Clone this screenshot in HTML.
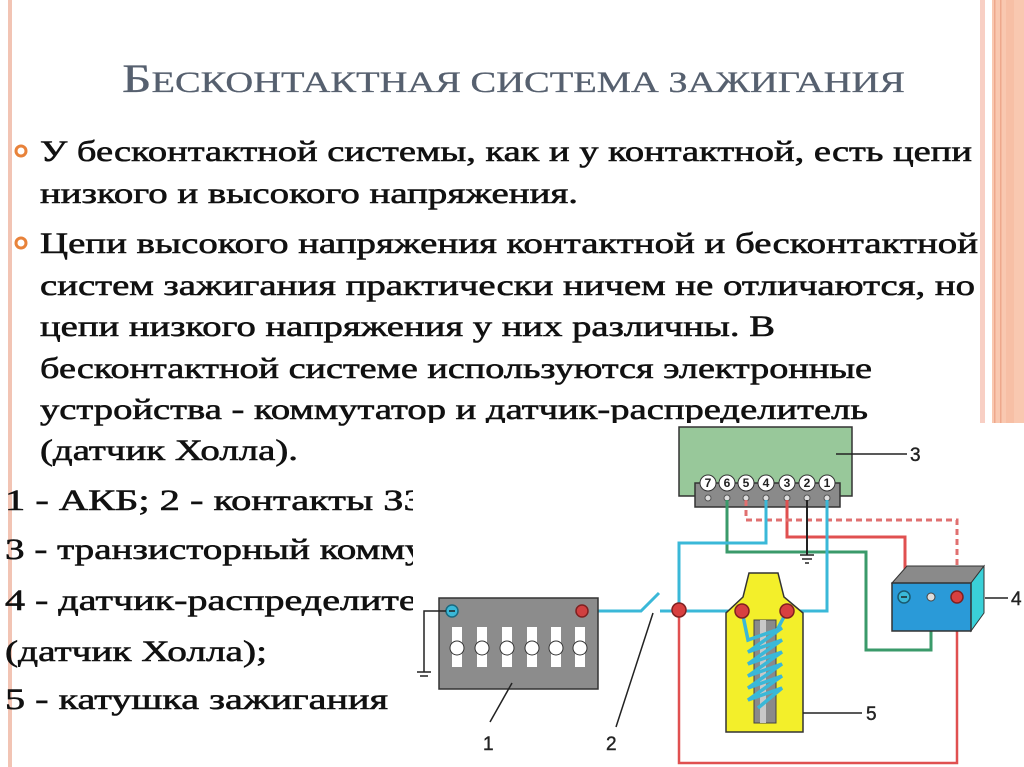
<!DOCTYPE html>
<html><head><meta charset="utf-8"><style>html,body{margin:0;padding:0;background:#fff}svg{display:block}</style></head>
<body>
<svg width="1024" height="767" viewBox="0 0 1024 767" xmlns="http://www.w3.org/2000/svg" font-family="Liberation Serif, serif">
<rect width="1024" height="767" fill="#fff"/>
<rect x="8" y="0" width="4" height="767" fill="#f2c4b4"/>
<rect x="980" y="0" width="5" height="423" fill="#f8cfc4"/>
<rect x="992" y="0" width="32" height="423" fill="#f9c8b0"/>
<rect x="994" y="0" width="1.5" height="423" fill="#eea88c"/>
<rect x="1000" y="0" width="1.5" height="423" fill="#eea88c"/>
<rect x="1006" y="0" width="8" height="423" fill="#f7bfa5"/>
<text x="122" y="92" fill="#56606f" stroke="#56606f" stroke-width="0.3" font-size="30" textLength="783" lengthAdjust="spacingAndGlyphs"><tspan font-size="40">Б</tspan>ЕСКОНТАКТНАЯ СИСТЕМА ЗАЖИГАНИЯ</text>
<circle cx="21" cy="151" r="5" fill="none" stroke="#e8823a" stroke-width="3"/>
<circle cx="21" cy="243" r="5" fill="none" stroke="#e8823a" stroke-width="3"/>
<g fill="#111" stroke="#111" stroke-width="0.6" font-size="30">
<text x="40" y="161" textLength="932" lengthAdjust="spacingAndGlyphs">У бесконтактной системы, как и у контактной, есть цепи</text>
<text x="40" y="203" textLength="538" lengthAdjust="spacingAndGlyphs">низкого и высокого напряжения.</text>
<text x="40" y="253" textLength="938" lengthAdjust="spacingAndGlyphs">Цепи высокого напряжения контактной и бесконтактной</text>
<text x="40" y="295" textLength="935" lengthAdjust="spacingAndGlyphs">систем зажигания практически ничем не отличаются, но</text>
<text x="40" y="336" textLength="735" lengthAdjust="spacingAndGlyphs">цепи низкого напряжения у них различны. В</text>
<text x="40" y="378" textLength="832" lengthAdjust="spacingAndGlyphs">бесконтактной системе используются электронные</text>
<text x="40" y="419" textLength="828" lengthAdjust="spacingAndGlyphs">устройства - коммутатор и датчик-распределитель</text>
<text x="40" y="460" textLength="258" lengthAdjust="spacingAndGlyphs">(датчик Холла).</text>
<text x="5" y="510" textLength="430" lengthAdjust="spacingAndGlyphs">1 - АКБ; 2 - контакты ЗЗ;</text>
<text x="5" y="559" textLength="520" lengthAdjust="spacingAndGlyphs">3 - транзисторный коммутатор;</text>
<text x="5" y="610" textLength="450" lengthAdjust="spacingAndGlyphs">4 - датчик-распределитель</text>
<text x="5" y="661" textLength="262" lengthAdjust="spacingAndGlyphs">(датчик Холла);</text>
<text x="5" y="709" textLength="383" lengthAdjust="spacingAndGlyphs">5 - катушка зажигания</text>
</g>
<rect x="413" y="423" width="611" height="344" fill="#fff"/>
<rect x="679" y="427" width="173" height="69" fill="#98c89a" stroke="#333" stroke-width="1.5"/>
<rect x="695" y="483" width="145" height="24" fill="#8a8a8a" stroke="#333" stroke-width="1.5"/>
<g font-size="12" font-family="Liberation Sans, sans-serif" font-weight="bold" text-anchor="middle" fill="#222">
<g fill="#fff" stroke="#333" stroke-width="1"><circle cx="708" cy="483" r="8"/><circle cx="727" cy="483" r="8"/><circle cx="746" cy="483" r="8"/><circle cx="766" cy="483" r="8"/><circle cx="787" cy="483" r="8"/><circle cx="807" cy="483" r="8"/><circle cx="827" cy="483" r="8"/></g>
<text x="708" y="487">7</text><text x="727" y="487">6</text><text x="746" y="487">5</text><text x="766" y="487">4</text><text x="787" y="487">3</text><text x="807" y="487">2</text><text x="827" y="487">1</text>
</g>
<g fill="#ddd" stroke="#555" stroke-width="1"><circle cx="708" cy="498" r="3"/><circle cx="727" cy="498" r="3"/><circle cx="746" cy="498" r="3"/><circle cx="766" cy="498" r="3"/><circle cx="787" cy="498" r="3"/><circle cx="807" cy="498" r="3"/><circle cx="827" cy="498" r="3"/></g>
<line x1="836" y1="454" x2="907" y2="454" stroke="#222" stroke-width="1.5"/>
<g font-family="Liberation Sans, sans-serif" font-size="19" fill="#222" stroke="#222" stroke-width="0.4">
<text x="910" y="461">3</text>
<text x="866" y="720">5</text>
<text x="1011" y="605">4</text>
<text x="483" y="750">1</text>
<text x="606" y="750">2</text>
</g>
<g fill="none" stroke-width="3">
<polyline points="727,500 727,552 866,552 866,650 931,650 931,631" stroke="#3a9a6a"/>
<polyline points="787,500 787,537 905,537 905,585" stroke="#e05050"/>
<polyline points="746,500 746,520 957,520 957,585" stroke="#e07070" stroke-dasharray="6,4"/>
<polyline points="807,500 807,555" stroke="#222" stroke-width="2"/>
<polyline points="766,500 766,543 679,543 679,611 742,611" stroke="#3ab8d8"/>
<polyline points="787,611 827,611 827,500" stroke="#3ab8d8"/>
<polyline points="582,611 641,611 659,593" stroke="#3ab8d8"/>
<line x1="660" y1="611" x2="679" y2="611" stroke="#3ab8d8"/>
<polyline points="679,611 679,763 957,763 957,631" stroke="#e05050" stroke-width="2.5"/>
</g>
<g stroke="#222" stroke-width="1.5"><line x1="800" y1="555" x2="814" y2="555"/><line x1="802" y1="559" x2="812" y2="559"/><line x1="805" y1="563" x2="809" y2="563"/></g>
<rect x="439" y="598" width="159" height="91" fill="#8c8c8c" stroke="#333" stroke-width="1.5"/>
<g fill="#fff">
<rect x="452" y="627" width="10" height="40"/><rect x="477" y="627" width="10" height="40"/><rect x="502" y="627" width="10" height="40"/><rect x="527" y="627" width="10" height="40"/><rect x="551" y="627" width="10" height="40"/><rect x="575" y="627" width="10" height="40"/>
</g>
<g fill="#fff" stroke="#333" stroke-width="1"><circle cx="457" cy="648" r="7"/><circle cx="482" cy="648" r="7"/><circle cx="507" cy="648" r="7"/><circle cx="532" cy="648" r="7"/><circle cx="556" cy="648" r="7"/><circle cx="580" cy="648" r="7"/></g>
<circle cx="452" cy="611" r="6" fill="#3ab8d8" stroke="#1a6a80" stroke-width="1.5"/>
<line x1="449" y1="611" x2="455" y2="611" stroke="#222" stroke-width="1.5"/>
<circle cx="582" cy="611" r="6" fill="#d04040" stroke="#802020" stroke-width="1.5"/>
<polyline points="446,611 424,611 424,672" fill="none" stroke="#222" stroke-width="1.5"/>
<g stroke="#222" stroke-width="1.5"><line x1="417" y1="672" x2="431" y2="672"/><line x1="420" y1="676" x2="428" y2="676"/></g>
<polygon points="749,573 778,573 784,597 803,613 803,732 726,732 726,613 743,597" fill="#f3ef2a" stroke="#333" stroke-width="1.5"/>
<rect x="754" y="620" width="22" height="103" fill="#8a8a8a" stroke="#444" stroke-width="1"/>
<rect x="760" y="620" width="6" height="103" fill="#c8c8c8"/>
<g fill="none" stroke="#3ab8d8" stroke-width="3.5">
<polyline points="742,611 748,640 782,628 748,652 782,640 748,664 782,652 748,676 782,664 748,688 782,676 748,700 782,688 758,708"/>
<polyline points="787,611 775,634"/>
</g>
<circle cx="679" cy="610" r="7" fill="#d84040" stroke="#802020" stroke-width="1.5"/>
<circle cx="742" cy="611" r="7" fill="#d84040" stroke="#802020" stroke-width="1.5"/>
<circle cx="787" cy="611" r="7" fill="#d84040" stroke="#802020" stroke-width="1.5"/>
<line x1="803" y1="713" x2="862" y2="713" stroke="#222" stroke-width="1.5"/>
<polygon points="892,583 907,566 984,566 971,583" fill="#8a8a8a" stroke="#333" stroke-width="1"/>
<polygon points="971,583 984,566 984,613 971,631" fill="#3ad0d8" stroke="#333" stroke-width="1"/>
<rect x="892" y="583" width="79" height="48" fill="#2a9ad8" stroke="#333" stroke-width="1.5"/>
<circle cx="904" cy="597" r="6" fill="#3ab8d8" stroke="#1a5a70" stroke-width="1.5"/>
<line x1="901" y1="597" x2="907" y2="597" stroke="#222" stroke-width="1.5"/>
<circle cx="931" cy="597" r="4" fill="#ddd" stroke="#444"/>
<circle cx="957" cy="597" r="6" fill="#d84040" stroke="#802020" stroke-width="1.5"/>
<line x1="985" y1="598" x2="1008" y2="598" stroke="#222" stroke-width="1.5"/>
<line x1="512" y1="683" x2="490" y2="722" stroke="#222" stroke-width="1.5"/>
<line x1="653" y1="613" x2="616" y2="727" stroke="#222" stroke-width="1.5"/>
</svg>
</body></html>
